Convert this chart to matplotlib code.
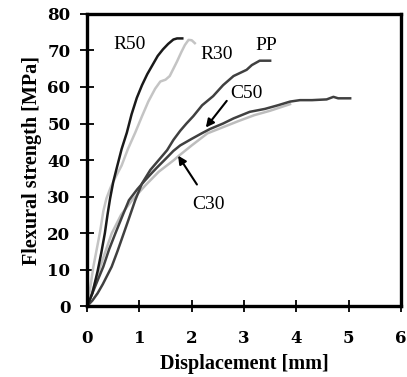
import numpy as np
import matplotlib
matplotlib.use("Agg")
import matplotlib.pyplot as plt

plt.rcParams['font.family'] = ['Liberation Serif', 'DejaVu Serif']

# curves: displacement [mm], flexural strength [MPa]
r50_x = [0, 0.1, 0.2, 0.27, 0.34, 0.39, 0.44, 0.5, 0.57, 0.66, 0.76, 0.85, 0.95, 1.05, 1.15, 1.25, 1.35, 1.45, 1.55, 1.65, 1.72, 1.82]
r50_y = [0, 3.5, 9.5, 14.5, 20, 25, 29.5, 34, 38, 43, 47.5, 52.5, 57, 60.5, 63.5, 66, 68.5, 70.3, 71.8, 73, 73.3, 73.3]

r30_x = [0, 0.06, 0.12, 0.19, 0.25, 0.31, 0.37, 0.45, 0.55, 0.66, 0.78, 0.92, 1.05, 1.17, 1.3, 1.4, 1.5, 1.58, 1.65, 1.72, 1.8, 1.87, 1.94, 2.0, 2.06]
r30_y = [0, 5, 10.8, 16, 20.5, 26, 29.5, 32.5, 35.5, 38.5, 43, 47.5, 52, 56, 59.5, 61.5, 62, 63, 65, 67, 69.5, 71.5, 72.9, 72.8, 72]

pp_x = [0, 0.1, 0.2, 0.3, 0.47, 0.58, 0.7, 0.8, 0.92, 1.05, 1.21, 1.37, 1.53, 1.65, 1.78, 1.9, 2.03, 2.2, 2.41, 2.6, 2.8, 3.05, 3.15, 3.3, 3.5]
pp_y = [0, 1.5, 3.5, 6, 10.8, 15, 19.9, 24, 29, 33.6, 37.3, 40, 42.7, 45.5, 48, 50, 52, 55, 57.5, 60.5, 63, 64.7, 66, 67.2, 67.2]

c50_x = [0, 0.1, 0.2, 0.31, 0.42, 0.54, 0.67, 0.8, 0.96, 1.1, 1.24, 1.34, 1.5, 1.65, 1.78, 2.0, 2.19, 2.35, 2.6, 2.8, 3.11, 3.4, 3.65, 3.88, 4.07, 4.3, 4.58, 4.71, 4.8, 5.03]
c50_y = [0, 3.5, 7, 10.8, 15.5, 19.9, 24.5, 29, 32, 34.3, 36.5, 38, 40.3, 42.5, 44, 45.8, 47.3, 48.5, 50, 51.4, 53.2, 54, 55, 56, 56.4, 56.4, 56.6, 57.3, 56.9, 56.9]

c30_x = [0, 0.1, 0.25, 0.47, 0.65, 0.86, 1.11, 1.37, 1.66, 1.74, 2.0, 2.3, 2.6, 2.9, 3.2, 3.5, 3.88]
c30_y = [0, 4, 10.8, 19.9, 25, 29, 33, 36.8, 40, 41, 44, 47.3, 49, 50.7, 52.3, 53.5, 55.3]

x_ticks = [0, 1, 2, 3, 4, 5, 6]
y_ticks = [0, 10, 20, 30, 40, 50, 60, 70, 80]

fig = plt.figure(figsize=(4.07, 3.77), dpi=100)
ax = fig.add_axes([0.214, 0.188, 0.771, 0.775])

ax.plot(c30_x, c30_y, color='#bdbdbd', lw=1.8)
ax.plot(pp_x, pp_y, color='#404040', lw=1.8)
ax.plot(c50_x, c50_y, color='#404040', lw=1.8)
ax.plot(r30_x, r30_y, color='#c4c4c4', lw=1.8)
ax.plot(r50_x, r50_y, color='#1a1a1a', lw=1.8)

lbl_kw = dict(fontsize=14, ha='center', va='center')
ax.text(0.82, 71.6, 'R50', **lbl_kw)
ax.text(2.48, 68.8, 'R30', **lbl_kw)
ax.text(3.43, 71.3, 'PP', **lbl_kw)
ax.text(3.05, 58.3, 'C50', **lbl_kw)
ax.text(2.32, 27.7, 'C30', **lbl_kw)

ax.annotate('', xy=(2.27, 48.9), xytext=(2.67, 56.2),
            arrowprops=dict(arrowstyle='-|>', color='black', lw=1.5, mutation_scale=12, shrinkA=0, shrinkB=0))
ax.annotate('', xy=(1.74, 41.2), xytext=(2.1, 33.3),
            arrowprops=dict(arrowstyle='-|>', color='black', lw=1.5, mutation_scale=12, shrinkA=0, shrinkB=0))

ax.set_xlim(0, 6)
ax.set_ylim(0, 80)
ax.set_xticks(x_ticks)
ax.set_yticks(y_ticks)
ax.tick_params(axis='x', direction='inout', length=9, width=1.3, pad=13)
ax.tick_params(axis='y', direction='inout', length=10, width=1.3, pad=7)
for lbl in ax.get_xticklabels() + ax.get_yticklabels():
    lbl.set_fontweight('bold')
    lbl.set_family('DejaVu Serif')
    lbl.set_fontsize(12)
for s in ax.spines.values():
    s.set_linewidth(2.4)

ax.set_xlabel('Displacement [mm]', fontsize=14.5, fontweight='bold', labelpad=5)
ax.set_ylabel('Flexural strength [MPa]', fontsize=14.5, fontweight='bold', labelpad=4)

fig.savefig('out.png', dpi=100)
